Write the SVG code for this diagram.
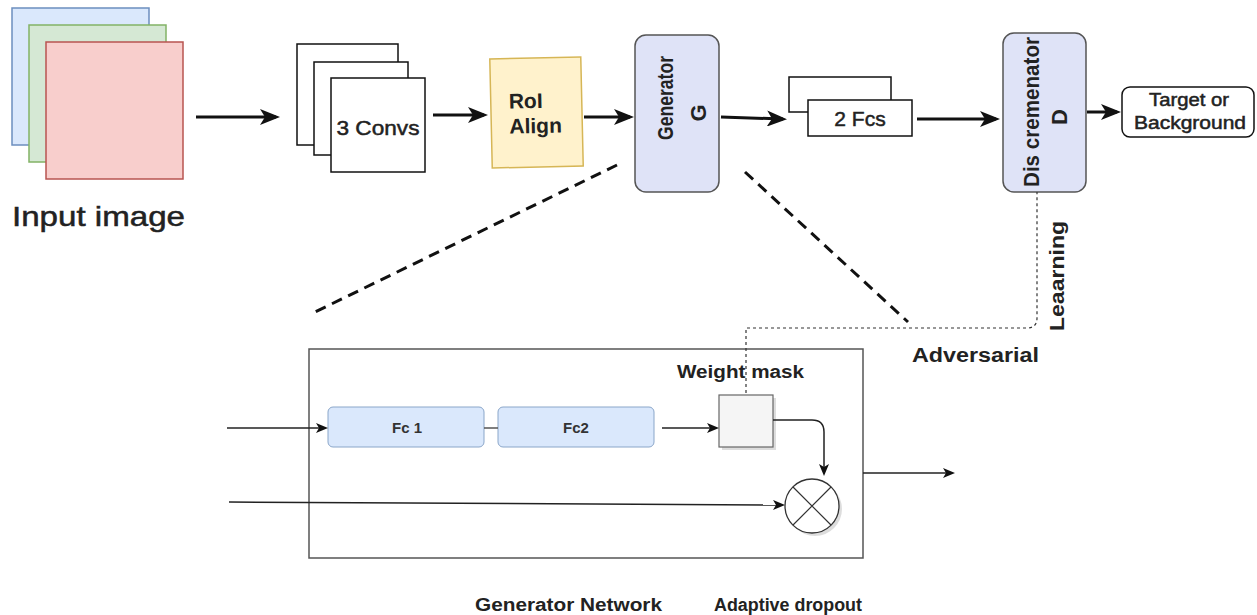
<svg xmlns="http://www.w3.org/2000/svg" width="1257" height="615" viewBox="0 0 1257 615">
<defs>
<style>
text{font-family:"Liberation Sans",Arial,sans-serif;fill:#222}
.b{font-weight:bold}
.m{stroke:#222;stroke-width:0.5}
.thick{stroke:#111;stroke-width:3;fill:none}
.thin{stroke:#222;stroke-width:1.5;fill:none}
.zoom{stroke:#111;stroke-width:3;fill:none;stroke-dasharray:11 7}
.dot{stroke:#333;stroke-width:1.2;fill:none;stroke-dasharray:3 3}
.wbox{fill:#fff;stroke:#111;stroke-width:1.5}
.gbox{fill:#dfe3f7;stroke:#555;stroke-width:1.5}
.fc{fill:#dae8fc;stroke:#8aa6c9;stroke-width:1}
</style>
<marker id="big" viewBox="0 0 20 16" refX="16" refY="8" markerWidth="20" markerHeight="16" markerUnits="userSpaceOnUse" orient="auto">
<path d="M0,0 L20,8 L0,16 L5,8 Z" fill="#111"/>
</marker>
<marker id="sm" viewBox="0 0 12 10" refX="9" refY="5" markerWidth="12" markerHeight="10" markerUnits="userSpaceOnUse" orient="auto">
<path d="M0,0 L12,5 L0,10 L3,5 Z" fill="#111"/>
</marker>
</defs>
<rect width="1257" height="615" fill="#fff"/>

<g id="input-image">
<rect x="12" y="8" width="137" height="137" fill="#dae8fc" stroke="#6c8ebf" stroke-width="1.5"/>
<rect x="29" y="25" width="137" height="137" fill="#d5e8d4" stroke="#82b366" stroke-width="1.5"/>
<rect x="46" y="42" width="137" height="137" fill="#f8cecc" stroke="#b85450" stroke-width="1.5"/>
<text class="m" x="12" y="226" font-size="28" textLength="173" lengthAdjust="spacingAndGlyphs" stroke-width="0.8">Input image</text>
</g>

<g id="convs">
<rect class="wbox" x="297" y="44" width="101" height="101"/>
<rect class="wbox" x="314" y="62" width="94" height="93"/>
<rect class="wbox" x="331" y="78" width="94" height="94"/>
<text class="m" x="378" y="135" font-size="21" text-anchor="middle" textLength="83" lengthAdjust="spacingAndGlyphs">3 Convs</text>
</g>

<g id="roi-align" transform="rotate(-1.3 536 112)">
<rect x="491" y="58" width="91" height="109" fill="#fff2cc" stroke="#d6b656" stroke-width="1.5"/>
<text class="b" x="509" y="108" font-size="21">RoI</text>
<text class="b" x="509" y="133" font-size="21">Align</text>
</g>

<g id="generator">
<rect class="gbox" x="635" y="35" width="84" height="157" rx="11"/>
<text class="b" transform="translate(673,98) rotate(-90)" font-size="22" text-anchor="middle" textLength="84" lengthAdjust="spacingAndGlyphs">Generator</text>
<text class="b" transform="translate(706,113) rotate(-90)" font-size="22" text-anchor="middle">G</text>
</g>

<g id="fcs">
<rect class="wbox" x="789" y="77" width="102" height="35"/>
<rect class="wbox" x="808" y="100" width="104" height="36"/>
<text class="m" x="860" y="126" font-size="21" text-anchor="middle">2 Fcs</text>
</g>

<g id="discriminator">
<rect class="gbox" x="1003" y="33" width="83" height="159" rx="11"/>
<text class="b" transform="translate(1039,112) rotate(-90)" font-size="22" text-anchor="middle" textLength="150" lengthAdjust="spacingAndGlyphs">Dis cremenator</text>
<text class="b" transform="translate(1067,117) rotate(-90)" font-size="22" text-anchor="middle">D</text>
</g>

<g id="target">
<rect x="1122" y="87" width="132" height="50" rx="8" fill="#fff" stroke="#111" stroke-width="1.5"/>
<text class="m" x="1189" y="106" font-size="18" text-anchor="middle" textLength="80" lengthAdjust="spacingAndGlyphs" stroke-width="0.4">Target or</text>
<text class="m" x="1190" y="129" font-size="18" text-anchor="middle" textLength="112" lengthAdjust="spacingAndGlyphs" stroke-width="0.4">Background</text>
</g>

<g id="generator-network">
<rect x="309" y="349" width="554" height="209" fill="none" stroke="#555" stroke-width="1.5"/>
</g>

<g id="fc1">
<rect class="fc" x="328" y="407" width="156" height="40" rx="5"/>
<text class="b" x="407" y="433" font-size="15" text-anchor="middle" style="fill:#333">Fc 1</text>
</g>
<g id="fc2">
<rect class="fc" x="498" y="407" width="156" height="40" rx="5"/>
<text class="b" x="576" y="433" font-size="15" text-anchor="middle" style="fill:#333">Fc2</text>
</g>

<g id="weight-mask">
<rect x="722" y="398" width="54" height="52" fill="#bbb" opacity="0.5"/>
<rect x="719" y="395" width="54" height="52" fill="#f5f5f5" stroke="#666" stroke-width="1.2"/>
<text class="b" x="677" y="378" font-size="18" textLength="127" lengthAdjust="spacingAndGlyphs">Weight mask</text>
</g>

<g id="multiply">
<circle cx="815" cy="509" r="27" fill="#bbb" opacity="0.5"/>
<circle cx="812" cy="506" r="27" fill="#fff" stroke="#333" stroke-width="1.3"/>
<path d="M793,487 L831,525 M831,487 L793,525" stroke="#333" stroke-width="1.2" fill="none"/>
</g>

<g id="labels">
<text class="b" x="912" y="362" font-size="20" textLength="127" lengthAdjust="spacingAndGlyphs">Adversarial</text>
<text class="b" transform="translate(1064,276) rotate(-90)" font-size="20" text-anchor="middle" textLength="110" lengthAdjust="spacingAndGlyphs">Leaarning</text>
<text class="b" x="475" y="611" font-size="18" textLength="187" lengthAdjust="spacingAndGlyphs">Generator Network</text>
<text class="b" x="714" y="611" font-size="18" textLength="148" lengthAdjust="spacingAndGlyphs">Adaptive dropout</text>
</g>

<g id="connectors">
<path class="thick" d="M196,117 H276" marker-end="url(#big)"/>
<path class="thick" d="M433,115 H484" marker-end="url(#big)"/>
<path class="thick" d="M584,117 H630" marker-end="url(#big)"/>
<path class="thick" d="M721,117 L783,119" marker-end="url(#big)"/>
<path class="thick" d="M917,119 H996" marker-end="url(#big)"/>
<path class="thick" d="M1087,112 H1117" marker-end="url(#big)"/>
<path class="zoom" d="M617,165 L315,312"/>
<path class="zoom" d="M745,172 L908,322"/>
<path class="dot" d="M746,393 V328 H1027 Q1037,328 1037,318 V192"/>
<path class="thin" d="M227,428 H325" marker-end="url(#sm)"/>
<path class="thin" d="M484,428 H498" style="stroke:#555"/>
<path class="thin" d="M662,428 H716" marker-end="url(#sm)"/>
<path class="thin" d="M773,420 H812 Q824,420 824,432 V473" marker-end="url(#sm)"/>
<path class="thin" d="M229,502 L782,505" marker-end="url(#sm)"/>
<path class="thin" d="M863,473 H952" marker-end="url(#sm)"/>
</g>
</svg>
